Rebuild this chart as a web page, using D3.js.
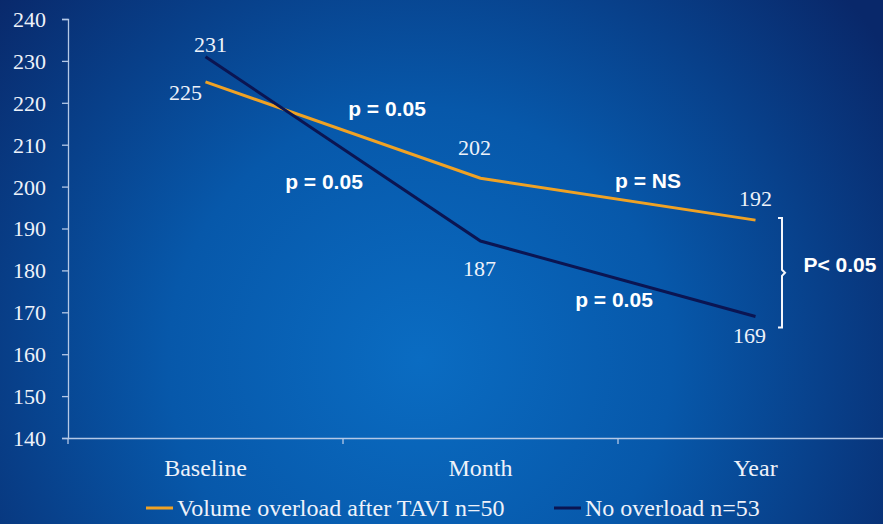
<!DOCTYPE html>
<html>
<head>
<meta charset="utf-8">
<script src="https://cdn.jsdelivr.net/npm/d3@7/dist/d3.min.js"></script>
<style>
  body { margin: 0; overflow: hidden; }
  .num { font-family: "Liberation Serif", "Times New Roman", serif; fill: #eef2fa; }
  .pval { font-family: "Liberation Sans", Arial, sans-serif; font-weight: bold; fill: #ffffff; }
</style>
</head>
<body>
<script>
var w = 883;
var h = 524;

var categories = ["Baseline", "Month", "Year"];
var overload = [225, 202, 192];
var noOverload = [231, 187, 169];
var yTicks = [140, 150, 160, 170, 180, 190, 200, 210, 220, 230, 240];
var seriesNames = ["Volume overload after TAVI n=50", "No overload n=53"];
var seriesColors = ["#f0a224", "#0b1552"];

var svg = d3.select("body").append("svg")
  .attr("width", w)
  .attr("height", h);

// background gradient
var defs = svg.append("defs");
var grad = defs.append("radialGradient")
  .attr("id", "bg")
  .attr("gradientUnits", "userSpaceOnUse")
  .attr("cx", 420).attr("cy", 360).attr("r", 560);
grad.append("stop").attr("offset", "0%").attr("stop-color", "#0a6cc2");
grad.append("stop").attr("offset", "45%").attr("stop-color", "#0758aa");
grad.append("stop").attr("offset", "100%").attr("stop-color", "#09286a");
svg.append("rect").attr("width", w).attr("height", h).attr("fill", "url(#bg)");

var x = d3.scaleBand().domain(categories).range([68, 893]);
var y = d3.scaleLinear().domain([140, 240]).range([438, 19]);
var cx = d => x(d) + x.bandwidth() / 2;

// y axis
var yAxis = svg.append("g")
  .attr("transform", "translate(68,0)")
  .call(d3.axisLeft(y).tickValues(yTicks).tickSize(6).tickPadding(16));
yAxis.selectAll("path, line").attr("stroke", "#b4c8e6").attr("stroke-width", 1.3);
yAxis.selectAll("text").attr("class", "num").attr("font-size", 22).attr("dy", "0.34em");

// x axis
var xAxis = svg.append("g")
  .attr("transform", "translate(0,438)")
  .call(d3.axisBottom(x).tickSize(0).tickPadding(21));
xAxis.select("path").attr("stroke", "#b4c8e6").attr("stroke-width", 1.3);
xAxis.selectAll("text").attr("class", "num").attr("font-size", 24);
// tick marks at band edges
svg.append("g").selectAll("line")
  .data(categories)
  .enter().append("line")
  .attr("x1", d => x(d)).attr("x2", d => x(d))
  .attr("y1", 438).attr("y2", 444)
  .attr("stroke", "#b4c8e6").attr("stroke-width", 1.3);

// lines
var line = d3.line().x((d, i) => cx(categories[i])).y(d => y(d));
[overload, noOverload].forEach(function (s, k) {
  svg.append("path")
    .attr("d", line(s))
    .attr("fill", "none")
    .attr("stroke", seriesColors[k])
    .attr("stroke-width", 3);
});

// value labels
var valueLabels = [
  { v: overload[0], c: 0, dx: -20, dy: 18 },
  { v: noOverload[0], c: 0, dx: 5, dy: -5 },
  { v: overload[1], c: 1, dx: -6, dy: -23 },
  { v: noOverload[1], c: 1, dx: -1, dy: 35 },
  { v: overload[2], c: 2, dx: 0, dy: -14 },
  { v: noOverload[2], c: 2, dx: -6, dy: 27 }
];
svg.append("g").selectAll("text")
  .data(valueLabels)
  .enter().append("text")
  .attr("class", "num")
  .attr("font-size", 22)
  .attr("text-anchor", "middle")
  .attr("x", d => cx(categories[d.c]) + d.dx)
  .attr("y", d => y(d.v) + d.dy)
  .text(d => d.v);

// p-values
var pLabels = [
  { t: "p = 0.05", x: 387, y: 116 },
  { t: "p = 0.05", x: 324, y: 189 },
  { t: "p = NS", x: 648, y: 188 },
  { t: "p = 0.05", x: 614, y: 307 },
  { t: "P< 0.05", x: 840, y: 272 }
];
svg.append("g").selectAll("text")
  .data(pLabels)
  .enter().append("text")
  .attr("class", "pval")
  .attr("font-size", 21)
  .attr("text-anchor", "middle")
  .attr("x", d => d.x)
  .attr("y", d => d.y)
  .text(d => d.t);

// bracket between Year values
var bx = 782, bTop = y(overload[2]) - 2, bBot = y(noOverload[2]) + 11, bMid = (bTop + bBot) / 2;
svg.append("path")
  .attr("d", "M" + (bx - 4) + "," + bTop + " L" + bx + "," + bTop +
    " L" + bx + "," + (bMid - 3) + " L" + (bx + 3) + "," + bMid +
    " L" + bx + "," + (bMid + 3) + " L" + bx + "," + bBot + " L" + (bx - 4) + "," + bBot)
  .attr("fill", "none")
  .attr("stroke", "#f4f6fb")
  .attr("stroke-width", 2);

// legend
var legendItems = [{ x: 146, lw: 27 }, { x: 554, lw: 27 }];
var legend = svg.append("g").selectAll("g")
  .data(seriesNames)
  .enter().append("g")
  .attr("transform", (d, i) => "translate(" + [legendItems[i].x, 508] + ")");
legend.append("line")
  .attr("x1", 0).attr("x2", (d, i) => legendItems[i].lw)
  .attr("stroke", (d, i) => seriesColors[i])
  .attr("stroke-width", 3);
legend.append("text")
  .attr("class", "num")
  .attr("font-size", 24)
  .attr("x", (d, i) => legendItems[i].lw + 4)
  .attr("y", 8)
  .text(d => d);
</script>
</body>
</html>
